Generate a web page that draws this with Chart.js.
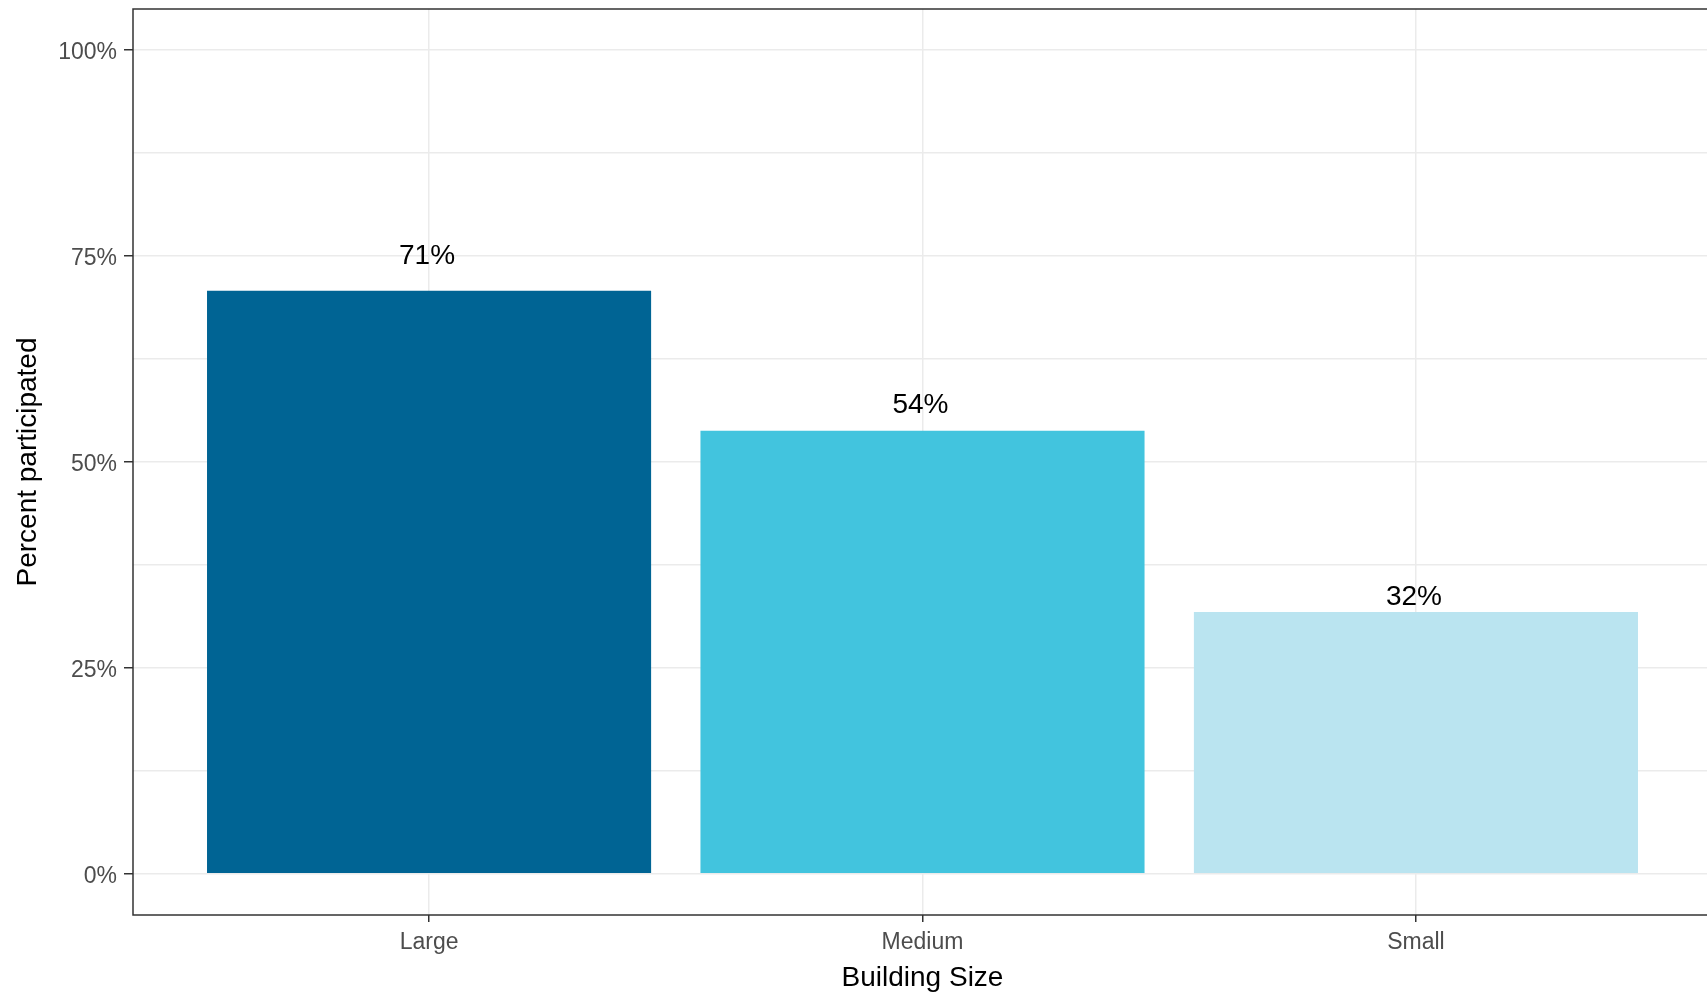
<!DOCTYPE html>
<html lang="en">
<head>
    <meta charset="UTF-8">
    <title>Percent participated by building size</title>
    <script src="https://cdn.jsdelivr.net/npm/chart.js"></script>
    <style>
        html, body {
            margin: 0;
            padding: 0;
            background: #fff;
            overflow: hidden;
        }
        #chart {
            display: block;
        }
    </style>
</head>
<body>
    <canvas id="chart" width="1714" height="995"></canvas>

    <script>
        // Data
        const categories = ['Large', 'Medium', 'Small'];
        const participated = [70.8, 53.8, 31.8];
        const barColors = ['#006494', '#42c4de', '#bae4f0'];
        const yTickValues = [0, 25, 50, 75, 100];
        const yMinorValues = [12.5, 37.5, 62.5, 87.5];

        const FONT = '"Liberation Sans", Arial, sans-serif';
        const labelLift = 1.06; // labels sit a bit above each bar

        // panel border + value labels above bars
        const panelAndLabels = {
            id: 'panelAndLabels',
            afterDatasetsDraw(chart) {
                const { ctx, chartArea: a, scales: { x, y } } = chart;
                ctx.save();
                ctx.font = '28px ' + FONT;
                ctx.fillStyle = '#000';
                ctx.textAlign = 'center';
                ctx.textBaseline = 'middle';
                participated.forEach((v, i) => {
                    ctx.fillText(Math.round(v) + '%', x.getPixelForValue(i + 1) - 2, y.getPixelForValue(v * labelLift) + 1);
                });
                ctx.strokeStyle = '#333';
                ctx.lineWidth = 1.5;
                ctx.strokeRect(a.left, a.top, a.width, a.height);
                ctx.restore();
            }
        };

        const ctx = document.getElementById('chart').getContext('2d');
        const chart = new Chart(ctx, {
            type: 'bar',
            data: {
                datasets: [{
                    data: categories.map((c, i) => ({ x: i + 1, y: participated[i] })),
                    backgroundColor: barColors,
                    borderWidth: 0,
                    categoryPercentage: 1,
                    barPercentage: 0.9
                }]
            },
            plugins: [panelAndLabels],
            options: {
                responsive: false,
                animation: false,
                devicePixelRatio: 1,
                layout: { padding: { top: 9, right: 2, left: 0, bottom: 0 } },
                plugins: {
                    legend: { display: false },
                    tooltip: { enabled: false }
                },
                scales: {
                    x: {
                        type: 'linear',
                        min: 0.4,
                        max: 3.6,
                        offset: false,
                        afterBuildTicks: s => { s.ticks = categories.map((c, i) => ({ value: i + 1 })); },
                        afterFit: s => { s.height = 80; s.paddingLeft = 0; s.paddingRight = 0; },
                        grid: {
                            offset: false,
                            color: '#ebebeb',
                            lineWidth: 1.5,
                            tickColor: '#333',
                            tickLength: 7
                        },
                        border: { display: false },
                        ticks: {
                            padding: 7,
                            color: '#4d4d4d',
                            font: { family: FONT, size: 23 },
                            maxRotation: 0,
                            callback: v => categories[v - 1]
                        },
                        title: {
                            display: true,
                            text: 'Building Size',
                            color: '#000',
                            font: { family: FONT, size: 28 },
                            padding: { top: 0, bottom: 0 }
                        }
                    },
                    y: {
                        min: -5,
                        max: 105,
                        afterBuildTicks: s => {
                            s.ticks = yTickValues.concat(yMinorValues).sort((a, b) => a - b).map(v => ({ value: v }));
                        },
                        afterFit: s => { s.width = 133; s.paddingTop = 0; s.paddingBottom = 0; },
                        grid: {
                            color: '#ebebeb',
                            lineWidth: 1.5,
                            tickColor: c => yTickValues.includes(c.tick && c.tick.value) ? '#333' : 'rgba(0,0,0,0)',
                            tickLength: 9
                        },
                        border: { display: false },
                        ticks: {
                            padding: 7,
                            labelOffset: 2.5,
                            color: '#4d4d4d',
                            font: { family: FONT, size: 23 },
                            callback: v => yTickValues.includes(v) ? v + '%' : ''
                        },
                        title: {
                            display: true,
                            text: 'Percent participated',
                            color: '#000',
                            font: { family: FONT, size: 28 },
                            padding: { top: 11, bottom: 0 }
                        }
                    }
                }
            }
        });
    </script>
</body>
</html>
